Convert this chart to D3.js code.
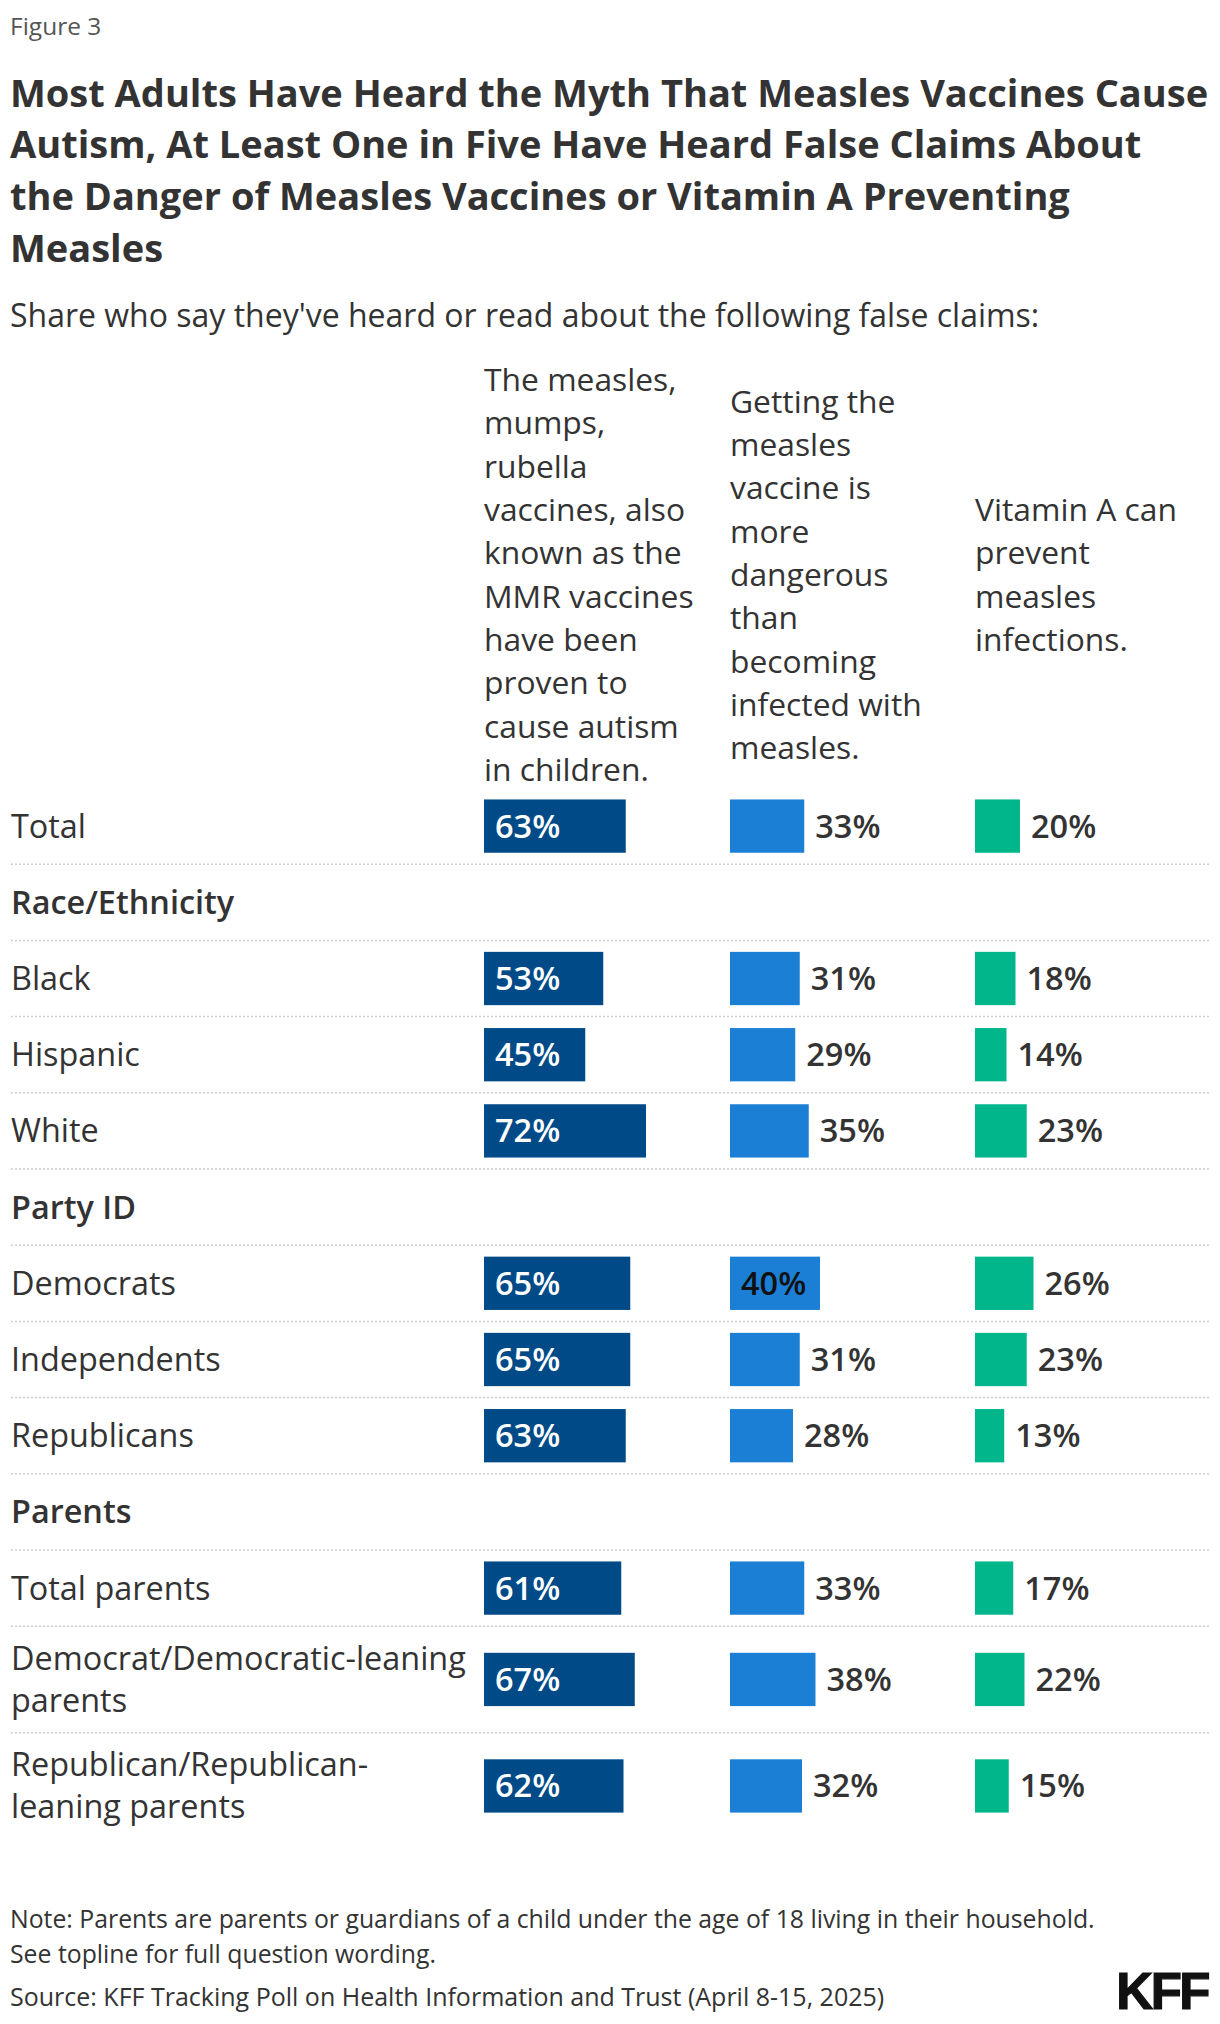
<!DOCTYPE html>
<html>
<head>
<meta charset="utf-8">
<script src="https://cdn.jsdelivr.net/npm/d3@7/dist/d3.min.js"></script>
<style>
  body { margin: 0; background: #fff; }
  svg text { font-family: "Open Sans", Lato, sans-serif; }
</style>
</head>
<body>
<svg id="chart" width="1220" height="2024"></svg>
<script>
// ---------- DATA ----------
const figureLabel = "Figure 3";
const titleLines = [
  "Most Adults Have Heard the Myth That Measles Vaccines Cause",
  "Autism, At Least One in Five Have Heard False Claims About",
  "the Danger of Measles Vaccines or Vitamin A Preventing",
  "Measles"
];
const subtitle = "Share who say they've heard or read about the following false claims:";

const seriesHeaders = [
  ["The measles,", "mumps,", "rubella", "vaccines, also", "known as the", "MMR vaccines", "have been", "proven to", "cause autism", "in children."],
  ["Getting the", "measles", "vaccine is", "more", "dangerous", "than", "becoming", "infected with", "measles."],
  ["Vitamin A can", "prevent", "measles", "infections."]
];

const rowLabels = [
  ["Total"],
  ["Race/Ethnicity"],
  ["Black"],
  ["Hispanic"],
  ["White"],
  ["Party ID"],
  ["Democrats"],
  ["Independents"],
  ["Republicans"],
  ["Parents"],
  ["Total parents"],
  ["Democrat/Democratic-leaning", "parents"],
  ["Republican/Republican-", "leaning parents"]
];
const rowIsSection = [false, true, false, false, false, true, false, false, false, true, false, false, false];

const mmrAutism     = [63, null, 53, 45, 72, null, 65, 65, 63, null, 61, 67, 62];
const vaccineDanger = [33, null, 31, 29, 35, null, 40, 31, 28, null, 33, 38, 32];
const vitaminA      = [20, null, 18, 14, 23, null, 26, 23, 13, null, 17, 22, 15];

const seriesValues = [mmrAutism, vaccineDanger, vitaminA];
const seriesColors = ["#004A87", "#1B80D5", "#00B68A"];

const noteLines = [
  "Note: Parents are parents or guardians of a child under the age of 18 living in their household.",
  "See topline for full question wording."
];
const sourceText = "Source: KFF Tracking Poll on Health Information and Trust (April 8-15, 2025)";

// ---------- LAYOUT ----------
const svg = d3.select("#chart");
const textColor = "#333333";

svg.append("text")
  .attr("x", 10).attr("y", 35)
  .attr("font-size", 24.5).attr("fill", "#555")
  .text(figureLabel);

svg.append("g").selectAll("text").data(titleLines).join("text")
  .attr("x", 10)
  .attr("y", (d, i) => 106.5 + i * 51.8)
  .attr("font-size", 38).attr("font-weight", 700).attr("fill", textColor)
  .text(d => d);

svg.append("text")
  .attr("x", 10).attr("y", 327)
  .attr("font-size", 32).attr("fill", textColor)
  .text(subtitle);

// columns
const colX = d3.scaleOrdinal().domain([0, 1, 2]).range([484, 730, 975]);
const x = d3.scaleLinear().domain([0, 100]).range([0, 225]);

// headers, vertically centred
const headerCenter = 586, headerLH = 43.3;
seriesHeaders.forEach((lines, c) => {
  svg.append("g").selectAll("text").data(lines).join("text")
    .attr("x", colX(c))
    .attr("y", (d, i) => headerCenter + (i - (lines.length - 1) / 2) * headerLH)
    .attr("font-size", 31.8).attr("fill", textColor)
    .text(d => d);
});

// rows
const rowTop0 = 788;
const rowH1 = 76.2, rowH2 = 106.5;
const rowHeights = rowLabels.map(l => l.length > 1 ? rowH2 : rowH1);
const rowTops = [];
rowHeights.reduce((acc, h) => { rowTops.push(acc); return acc + h; }, rowTop0);
const rowCenters = rowTops.map((t, i) => t + rowHeights[i] / 2);
const barH = 53.3;
const labelLH = 42;

const rows = svg.append("g");
rowLabels.forEach((lines, r) => {
  const cy = rowCenters[r];
  rows.append("g").selectAll("text").data(lines).join("text")
    .attr("x", 11)
    .attr("y", (d, i) => cy + 11.5 + (i - (lines.length - 1) / 2) * labelLH)
    .attr("font-size", 32.4)
    .attr("font-weight", rowIsSection[r] ? 600 : 400)
    .attr("fill", textColor)
    .text(d => d);
  if (r < rowLabels.length - 1) {
    rows.append("line")
      .attr("x1", 11).attr("x2", 1210)
      .attr("y1", rowTops[r] + rowHeights[r]).attr("y2", rowTops[r] + rowHeights[r])
      .attr("stroke", "#cfcfcf").attr("stroke-width", 1.5)
      .attr("stroke-dasharray", "2 2");
  }
});

const labelPad = 11;
const insideMinWidth = 88;
seriesValues.forEach((vals, c) => {
  const g = svg.append("g");
  const data = vals.map((v, r) => ({ v, r })).filter(d => d.v !== null);
  g.selectAll("rect").data(data).join("rect")
    .attr("x", colX(c))
    .attr("y", d => rowCenters[d.r] - barH / 2)
    .attr("width", d => x(d.v))
    .attr("height", barH)
    .attr("fill", seriesColors[c]);
  g.selectAll("text").data(data).join("text")
    .attr("font-size", 32.5).attr("font-weight", 600)
    .attr("y", d => rowCenters[d.r] + 11.5)
    .text(d => d.v + "%")
    .each(function (d) {
      const inside = x(d.v) >= insideMinWidth;
      d3.select(this)
        .attr("x", inside ? colX(c) + labelPad : colX(c) + x(d.v) + labelPad)
        .attr("fill", inside ? (c === 0 ? "#ffffff" : "#111111") : textColor);
    });
});

// footer
svg.append("g").selectAll("text").data(noteLines).join("text")
  .attr("x", 10).attr("y", (d, i) => 1928 + i * 35)
  .attr("font-size", 24.8).attr("fill", textColor)
  .text(d => d);
svg.append("text")
  .attr("x", 10).attr("y", 2006)
  .attr("font-size", 25).attr("fill", textColor)
  .text(sourceText);
svg.append("text")
  .attr("x", 1208).attr("y", 2009)
  .attr("text-anchor", "end")
  .style("font-family", "'Liberation Sans', Arial, sans-serif")
  .attr("font-size", 51).attr("font-weight", 700)
  .attr("letter-spacing", -2.5)
  .attr("fill", "#111").attr("stroke", "#111").attr("stroke-width", 1.2)
  .text("KFF");
</script>
</body>
</html>
